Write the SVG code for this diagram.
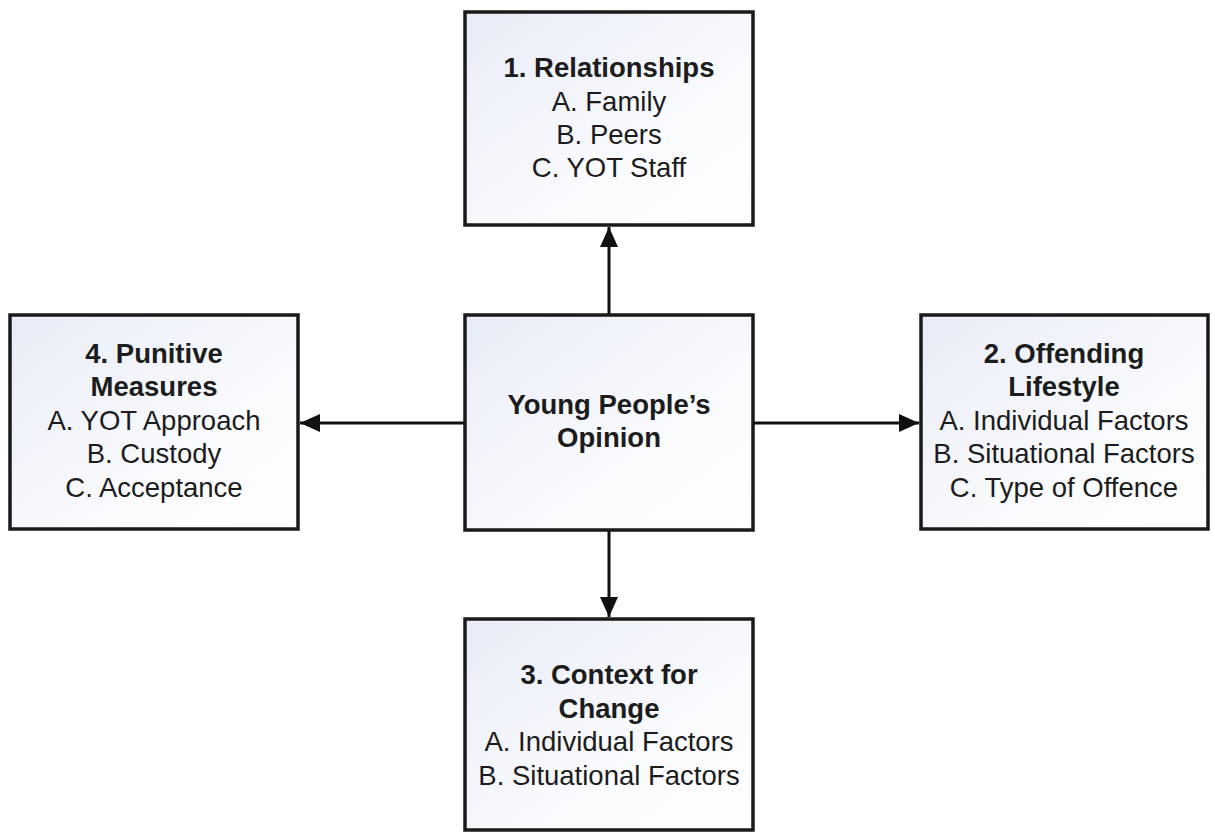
<svg xmlns="http://www.w3.org/2000/svg" width="1215" height="832" viewBox="0 0 1215 832">
  <defs>
    <linearGradient id="boxfill" x1="0" y1="0" x2="1" y2="1">
      <stop offset="0" stop-color="#e8ecf7"/>
      <stop offset="0.6" stop-color="#f9fafd"/>
      <stop offset="1" stop-color="#ffffff"/>
    </linearGradient>
    <marker id="arrow" markerUnits="userSpaceOnUse" markerWidth="21" markerHeight="19" refX="20" refY="9" orient="auto" viewBox="0 0 21 19">
      <path d="M0,0 L20,9 L0,18 Z" fill="#111"/>
    </marker>
    <style>
      .box { fill: url(#boxfill); stroke: #1a1a1a; stroke-width: 3.5; }
      .t { font-family: "Liberation Sans", Arial, sans-serif; font-size: 27.5px; fill: #1c1c1c; text-anchor: middle; }
      .b { font-weight: bold; }
      .conn { stroke: #111; stroke-width: 3; fill: none; marker-end: url(#arrow); }
    </style>
  </defs>
  <rect width="1215" height="832" fill="#ffffff"/>

  <g id="connectors">
    <line class="conn" x1="609" y1="315" x2="609" y2="227"/>
    <line class="conn" x1="465" y1="423" x2="300" y2="423"/>
    <line class="conn" x1="753" y1="423" x2="919" y2="423"/>
    <line class="conn" x1="609" y1="530" x2="609" y2="617"/>
  </g>

  <g id="node-relationships">
    <rect class="box" x="465" y="12" width="288" height="213"/>
    <text class="t b" x="609" y="77">1. Relationships</text>
    <text class="t" x="609" y="110.5">A. Family</text>
    <text class="t" x="609" y="144">B. Peers</text>
    <text class="t" x="609" y="177">C. YOT Staff</text>
  </g>

  <g id="node-center">
    <rect class="box" x="465" y="315" width="288" height="215"/>
    <text class="t b" x="609" y="414">Young People’s</text>
    <text class="t b" x="609" y="447">Opinion</text>
  </g>

  <g id="node-punitive">
    <rect class="box" x="10" y="315" width="288" height="214"/>
    <text class="t b" x="154" y="363">4. Punitive</text>
    <text class="t b" x="154" y="396">Measures</text>
    <text class="t" x="154" y="430">A. YOT Approach</text>
    <text class="t" x="154" y="463">B. Custody</text>
    <text class="t" x="154" y="497">C. Acceptance</text>
  </g>

  <g id="node-offending">
    <rect class="box" x="921" y="315" width="287" height="214"/>
    <text class="t b" x="1064" y="363">2. Offending</text>
    <text class="t b" x="1064" y="396">Lifestyle</text>
    <text class="t" x="1064" y="430">A. Individual Factors</text>
    <text class="t" x="1064" y="463">B. Situational Factors</text>
    <text class="t" x="1064" y="497">C. Type of Offence</text>
  </g>

  <g id="node-context">
    <rect class="box" x="465" y="619" width="288" height="211"/>
    <text class="t b" x="609" y="684">3. Context for</text>
    <text class="t b" x="609" y="717.5">Change</text>
    <text class="t" x="609" y="751">A. Individual Factors</text>
    <text class="t" x="609" y="784.5">B. Situational Factors</text>
  </g>
</svg>
